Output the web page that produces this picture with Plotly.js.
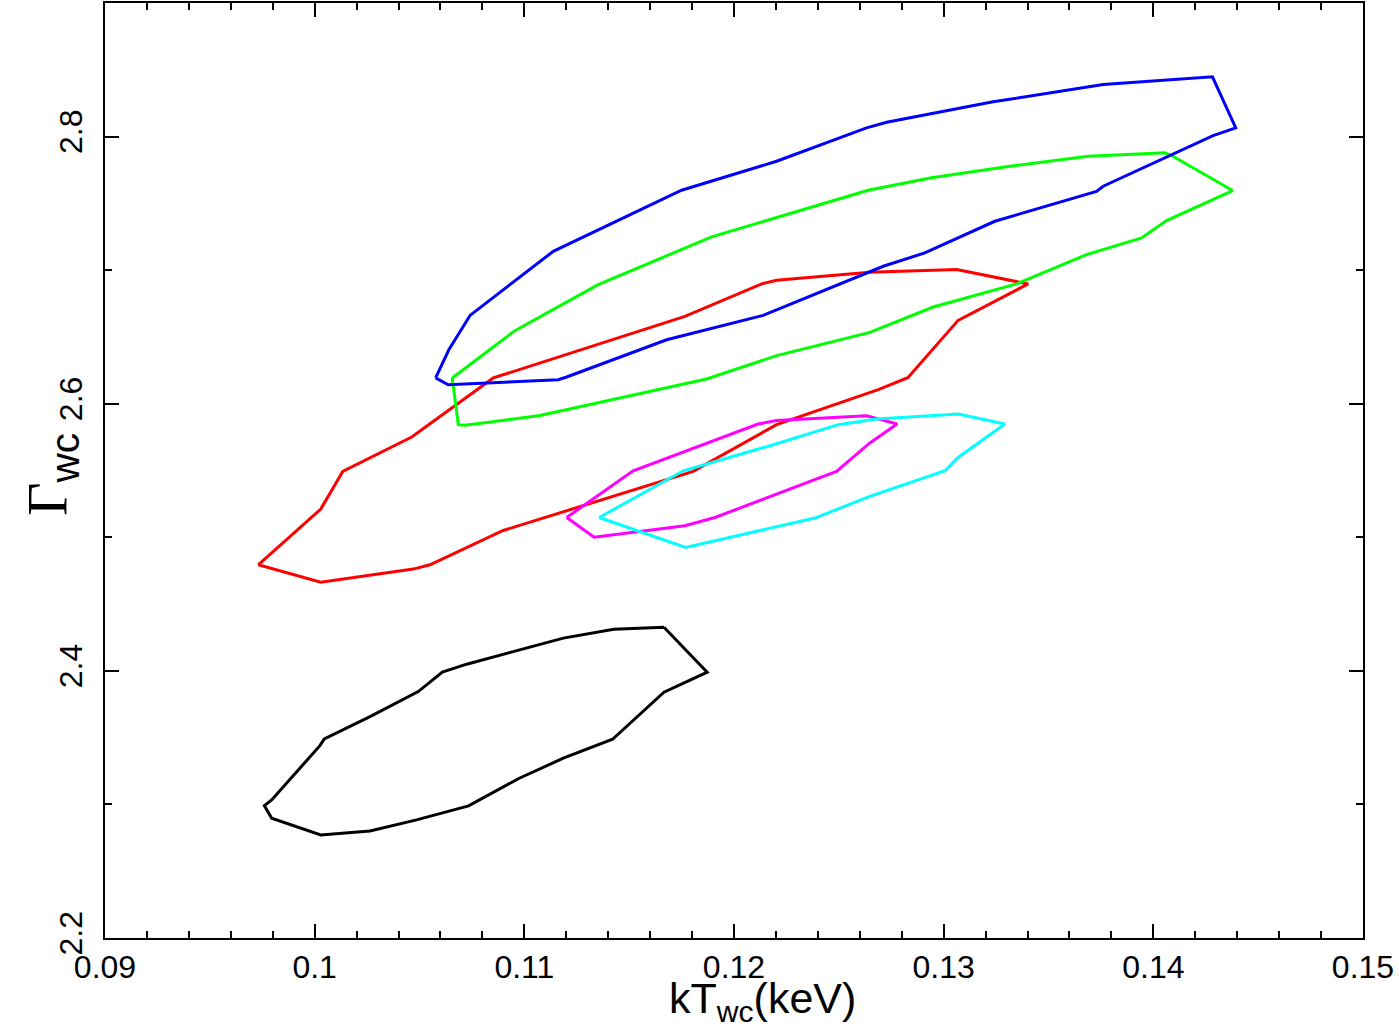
<!DOCTYPE html>
<html>
<head>
<meta charset="utf-8">
<script src="https://cdn.plot.ly/plotly-3.0.1.min.js"></script>
<style>html,body{margin:0;padding:0;background:#fff;}#chart{width:1399px;height:1027px;}</style>
</head>
<body>
<div id="chart"></div>
<script>
// ---- data (kT_wc in keV, Gamma_wc) ----
const blackX = [0.11666, 0.11872, 0.11666, 0.11421, 0.11186, 0.10976, 0.10734, 0.10486, 0.10264, 0.10029, 0.09795, 0.09760, 0.09795, 0.10025, 0.10046, 0.10264, 0.10494, 0.10609, 0.10725, 0.10947, 0.11186, 0.11427, 0.11666];
const blackY = [2.4327, 2.3990, 2.3840, 2.3488, 2.3346, 2.3196, 2.2989, 2.2884, 2.2801, 2.2772, 2.2897, 2.2991, 2.3034, 2.3440, 2.3491, 2.3658, 2.3845, 2.3990, 2.4050, 2.4145, 2.4245, 2.4312, 2.4327];

const redX = [0.09731, 0.10029, 0.10470, 0.10550, 0.10899, 0.11805, 0.12203, 0.12688, 0.12829, 0.13069, 0.13403, 0.13062, 0.12648, 0.12203, 0.12132, 0.11766, 0.10852, 0.10463, 0.10134, 0.10029, 0.09731];
const redY = [2.4794, 2.4664, 2.4762, 2.4794, 2.5051, 2.5493, 2.5843, 2.6105, 2.6195, 2.6624, 2.6897, 2.7004, 2.6984, 2.6924, 2.6897, 2.6654, 2.6193, 2.5751, 2.5493, 2.5211, 2.4794];

const greenX = [0.10656, 0.10685, 0.10717, 0.11074, 0.11869, 0.12203, 0.12648, 0.12950, 0.13348, 0.13681, 0.13944, 0.14063, 0.14378, 0.14087, 0.14055, 0.13689, 0.13316, 0.12942, 0.12640, 0.12203, 0.11893, 0.11352, 0.10955, 0.10656];
const greenY = [2.6193, 2.5843, 2.5838, 2.5912, 2.6185, 2.6360, 2.6534, 2.6724, 2.6897, 2.7116, 2.7241, 2.7371, 2.7596, 2.7858, 2.7878, 2.7852, 2.7778, 2.7691, 2.7598, 2.7391, 2.7249, 2.6891, 2.6547, 2.6193];

const blueX = [0.10577, 0.10637, 0.11162, 0.11202, 0.11679, 0.12139, 0.12712, 0.12910, 0.13244, 0.13729, 0.13761, 0.14285, 0.14393, 0.14282, 0.13761, 0.13236, 0.12728, 0.12632, 0.12203, 0.11750, 0.11138, 0.10741, 0.10640, 0.10577];
const blueY = [2.6193, 2.6142, 2.6180, 2.6200, 2.6479, 2.6661, 2.7029, 2.7129, 2.7366, 2.7590, 2.7628, 2.8007, 2.8065, 2.8447, 2.8390, 2.8260, 2.8107, 2.8065, 2.7815, 2.7598, 2.7141, 2.6661, 2.6404, 2.6193];

const magentaX = [0.11202, 0.11333, 0.11766, 0.11909, 0.12489, 0.12648, 0.12778, 0.12632, 0.12203, 0.12115, 0.11519, 0.11202];
const magentaY = [2.5148, 2.5001, 2.5086, 2.5148, 2.5493, 2.5706, 2.5848, 2.5910, 2.5875, 2.5848, 2.5498, 2.5148];

const cyanX = [0.11357, 0.11769, 0.12386, 0.12648, 0.13006, 0.13069, 0.13292, 0.13069, 0.12680, 0.12497, 0.12187, 0.11758, 0.11357];
const cyanY = [2.5148, 2.4924, 2.5144, 2.5306, 2.5498, 2.5598, 2.5848, 2.5923, 2.5885, 2.5843, 2.5693, 2.5498, 2.5148];

const xTickVals = [0.09, 0.10, 0.11, 0.12, 0.13, 0.14, 0.15];
const xTickText = ['0.09', '0.1', '0.11', '0.12', '0.13', '0.14', '0.15'];
const yTickVals = [2.2, 2.4, 2.6, 2.8];
const yTickText = ['2.2', '2.4', '2.6', '2.8'];
const xTitle = 'kT<sub>wc</sub>(keV)';
const yTitle = 'Γ<sub><span style="font-family:Liberation Sans, Arial, sans-serif">wc</span></sub>';

// ---- traces ----
const series = [
  {x: blackX, y: blackY, c: '#000000', n: 'black'},
  {x: redX, y: redY, c: '#ff0000', n: 'red'},
  {x: greenX, y: greenY, c: '#00ff00', n: 'green'},
  {x: blueX, y: blueY, c: '#0000ff', n: 'blue'},
  {x: magentaX, y: magentaY, c: '#ff00ff', n: 'magenta'},
  {x: cyanX, y: cyanY, c: '#00ffff', n: 'cyan'}
];
const traces = series.map(s => ({
  type: 'scatter', mode: 'lines', x: s.x, y: s.y, name: s.n,
  line: {color: s.c, width: 3}, hoverinfo: 'x+y'
}));

const sans = 'Liberation Sans, Arial, Helvetica, sans-serif';
const layout = {
  width: 1399, height: 1027,
  margin: {l: 105, r: 36, t: 3, b: 89, pad: 0},
  paper_bgcolor: '#ffffff', plot_bgcolor: '#ffffff',
  showlegend: false,
  font: {family: sans, color: '#000'},
  xaxis: {
    range: [0.09, 0.15], tickmode: 'array', tickvals: xTickVals, ticktext: xTickText,
    ticks: 'inside', ticklen: 14, tickwidth: 2, tickcolor: '#000',
    minor: {tickmode: 'linear', tick0: 0.09, dtick: 0.002, ticks: 'inside', ticklen: 7, tickwidth: 2, tickcolor: '#000', showgrid: false},
    showline: true, linewidth: 2, linecolor: '#000', mirror: 'allticks',
    showgrid: false, zeroline: false,
    tickfont: {size: 32, family: sans, color: '#000'},
    ticklabelstandoff: 0
  },
  yaxis: {
    range: [2.2, 2.9], tickmode: 'array', tickvals: yTickVals, ticktext: yTickText,
    ticks: 'inside', ticklen: 14, tickwidth: 2, tickcolor: '#000',
    minor: {tickmode: 'linear', tick0: 2.2, dtick: 0.1, ticks: 'inside', ticklen: 7, tickwidth: 2, tickcolor: '#000', showgrid: false},
    showline: true, linewidth: 2, linecolor: '#000', mirror: 'allticks',
    showgrid: false, zeroline: false,
    tickangle: -90,
    tickfont: {size: 32, family: sans, color: '#000'},
    ticklabelstandoff: 8
  },
  annotations: [
    {text: xTitle, xref: 'paper', yref: 'paper', x: 0.5223, y: -0.0674, xanchor: 'center', yanchor: 'middle',
     showarrow: false, font: {size: 43, family: sans, color: '#000'}},
    {text: yTitle, xref: 'paper', yref: 'paper', x: -0.0421, y: 0.4952, xanchor: 'center', yanchor: 'middle',
     textangle: -90, showarrow: false, font: {size: 58, family: 'Liberation Serif, Times New Roman, serif', color: '#000'}}
  ]
};
Plotly.newPlot('chart', traces, layout, {displayModeBar: false, staticPlot: true});
</script>
</body>
</html>
